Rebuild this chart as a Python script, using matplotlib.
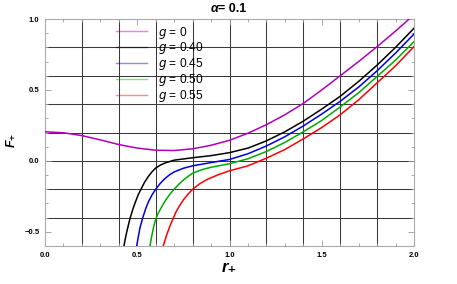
import numpy as np
import matplotlib.pyplot as plt
from matplotlib.lines import Line2D

plt.rcParams['font.family'] = ['Liberation Sans', 'DejaVu Sans']

# curves, one pair of arrays per g
r_g0 = [0.0, 0.1, 0.2, 0.3, 0.4, 0.5, 0.6, 0.7, 0.8, 0.9, 1.0, 1.1, 1.2, 1.3, 1.4, 1.5, 1.6, 1.7, 1.8, 1.9, 2.0]
F_g0 = [0.205, 0.198, 0.178, 0.148, 0.115, 0.09, 0.075, 0.073, 0.085, 0.11, 0.145, 0.195, 0.255, 0.325, 0.405, 0.50, 0.60, 0.70, 0.805, 0.915, 1.03]

r_g40 = [0.428, 0.435, 0.445, 0.46, 0.475, 0.49, 0.505, 0.52, 0.54, 0.56, 0.58, 0.6, 0.625, 0.65, 0.7, 0.8, 0.9, 1.0, 1.1, 1.2, 1.3, 1.4, 1.5, 1.6, 1.7, 1.8, 1.9, 2.0]
F_g40 = [-0.6, -0.55, -0.49, -0.41, -0.345, -0.29, -0.24, -0.2, -0.15, -0.11, -0.077, -0.05, -0.03, -0.015, 0.005, 0.022, 0.037, 0.058, 0.09, 0.141, 0.205, 0.28, 0.365, 0.455, 0.56, 0.675, 0.80, 0.935]

r_g45 = [0.497, 0.505, 0.515, 0.53, 0.545, 0.56, 0.58, 0.6, 0.625, 0.65, 0.675, 0.7, 0.75, 0.8, 0.9, 1.0, 1.1, 1.2, 1.3, 1.4, 1.5, 1.6, 1.7, 1.8, 1.9, 2.0]
F_g45 = [-0.6, -0.54, -0.47, -0.4, -0.34, -0.29, -0.24, -0.2, -0.158, -0.125, -0.098, -0.078, -0.052, -0.035, -0.012, 0.01, 0.05, 0.105, 0.17, 0.246, 0.33, 0.42, 0.52, 0.635, 0.76, 0.894]

r_g50 = [0.569, 0.577, 0.588, 0.6, 0.615, 0.63, 0.645, 0.66, 0.68, 0.7, 0.725, 0.75, 0.775, 0.8, 0.85, 0.9, 1.0, 1.1, 1.2, 1.3, 1.4, 1.5, 1.6, 1.7, 1.8, 1.9, 2.0]
F_g50 = [-0.6, -0.54, -0.47, -0.41, -0.365, -0.33, -0.295, -0.265, -0.23, -0.2, -0.165, -0.135, -0.11, -0.087, -0.062, -0.045, -0.02, 0.015, 0.066, 0.13, 0.205, 0.285, 0.38, 0.48, 0.595, 0.71, 0.84]

r_g55 = [0.641, 0.65, 0.66, 0.67, 0.68, 0.695, 0.71, 0.73, 0.75, 0.775, 0.8, 0.84, 0.88, 0.94, 1.0, 1.1, 1.2, 1.3, 1.4, 1.5, 1.6, 1.7, 1.8, 1.9, 2.0]
F_g55 = [-0.6, -0.56, -0.52, -0.485, -0.45, -0.405, -0.36, -0.315, -0.275, -0.235, -0.2, -0.16, -0.13, -0.097, -0.07, -0.035, 0.019, 0.08, 0.155, 0.235, 0.325, 0.43, 0.55, 0.67, 0.805]

labels = ["$g$ = 0", "$g$ = 0.40", "$g$ = 0.45", "$g$ = 0.50", "$g$ = 0.55"]
colors = ["#b000b8", "black", "#0000dd", "#00aa00", "#ff0000"]

fig = plt.figure(figsize=(4.57, 2.84), dpi=100)
ax = fig.add_axes([45/457, 38/284, 369/457, 227/284])

curves = [(r_g0, F_g0), (r_g40, F_g40), (r_g45, F_g45), (r_g50, F_g50), (r_g55, F_g55)]
for (r, F), c in zip(curves, colors):
    ax.plot(r, F, color=c, lw=1.1, zorder=3)

ax.set_xlim(0, 2)
ax.set_ylim(-0.6, 1.0)

# grid every 0.2 in both directions
for gx in np.arange(0.2, 2.0, 0.2):
    ax.axvline(gx, color="#3a3a3a", lw=0.75, zorder=1)
for gy in np.arange(-0.4, 1.0, 0.2):
    ax.axhline(gy, color="#3a3a3a", lw=0.75, zorder=1)

ax.set_xticks([0.0, 0.5, 1.0, 1.5, 2.0])
ax.set_xticks(np.arange(0.1, 2.0, 0.1), minor=True)
ax.set_yticks([-0.5, 0.0, 0.5, 1.0])
ax.set_yticks(np.arange(-0.6, 1.0, 0.1), minor=True)
ax.set_xticklabels(["0.0", "0.5", "1.0", "1.5", "2.0"], fontweight="bold")
ax.set_yticklabels(["\u22120.5", "0.0", "0.5", "1.0"], fontweight="bold")
ax.tick_params(which="both", direction="in", top=True, right=True, color="#999999", width=0.6)
ax.tick_params(which="major", length=4, labelsize=5.5, pad=4)
ax.tick_params(which="minor", length=2)
for s in ax.spines.values():
    s.set_color("#aaaaaa")
    s.set_linewidth(0.8)

# title: italic alpha, upright value
fig.text(218/457, 1 - 9/284, "\u03b1", fontsize=9, fontweight="bold", fontstyle="italic",
         ha="right", va="center")
fig.text(218/457, 1 - 9/284, "= 0.1", fontsize=9, fontweight="bold", ha="left", va="center")
fig.text(229/457, 1 - 268/284, "r\u208a", fontsize=12, fontweight="bold", fontstyle="italic",
         ha="center", va="center")
fig.text(12/457, 1 - 140/284, "F\u208a", fontsize=9, fontweight="bold", fontstyle="italic",
         rotation=90, ha="center", va="center")

handles = [Line2D([], [], color=c, lw=1.0, alpha=0.45) for c in colors]
ax.legend(handles, labels, loc="upper left", bbox_to_anchor=(0.17, 1.012), frameon=False,
          fontsize=8.6, handlelength=2.6, handletextpad=0.9, labelspacing=-0.02,
          borderaxespad=0.3)

fig.savefig("out.png", dpi=100)
